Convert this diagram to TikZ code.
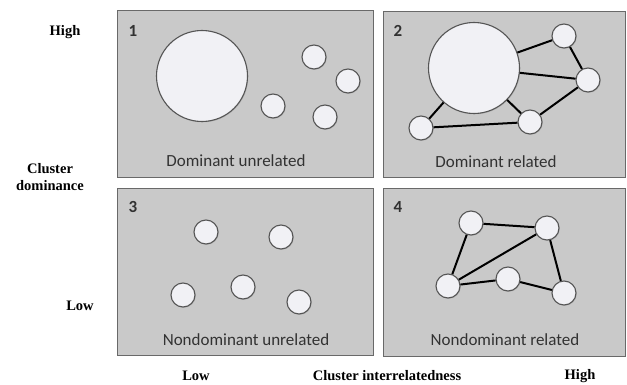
\documentclass[tikz,border=0pt]{standalone}
\usepackage{fontspec}
\setmainfont{Liberation Serif}
\newfontfamily\panelfont{Carlito}
\usetikzlibrary{shadows}
\definecolor{panelgray}{RGB}{201, 201, 201}
\definecolor{panelline}{RGB}{105, 105, 105}
\definecolor{dotfill}{RGB}{241, 241, 245}
\definecolor{dotline}{RGB}{85, 85, 85}
\definecolor{paneltext}{RGB}{50, 50, 50}

\tikzset{
  panel/.style={draw=panelline, line width=0.8pt, fill=panelgray,
    drop shadow={opacity=0.35, shadow xshift=1pt, shadow yshift=-1.2pt}},
  dot/.style={circle, draw=dotline, line width=1.1pt, fill=dotfill,
    inner sep=0pt, minimum size=24pt,
    drop shadow={opacity=0.3, shadow xshift=0.8pt, shadow yshift=-0.8pt}},
  bigdot/.style={dot, minimum size=91pt},
  link/.style={line width=2pt, black},
  caption/.style={font=\panelfont\fontsize{17}{20}\selectfont, text=paneltext},
  number/.style={caption, font=\panelfont\bfseries\fontsize{17}{20}\selectfont},
  axis/.style={font=\bfseries\fontsize{14.5}{17}\selectfont, align=center}
}

\begin{document}
\begin{tikzpicture}[x=1pt, y=-1pt]
\useasboundingbox (0,0) rectangle (627,385);

% the four quadrants
\draw[panel] (117,10) rectangle (373,177);
\draw[panel] (383,11) rectangle (625,177);
\draw[panel] (117,188) rectangle (373,355);
\draw[panel] (383,188) rectangle (625,356);

% 1: dominant unrelated
\node[number] (n1) at (133,31) {1};
\node[bigdot] (a0) at (202,76) {};
\node[dot] (a1) at (273,106) {};
\node[dot] (a2) at (314,57) {};
\node[dot] (a3) at (348,81) {};
\node[dot] (a4) at (325,117) {};
\node[caption] (t1) at (236,161) {Dominant unrelated};

% 2: dominant related
\node[number] (n2) at (398,31) {2};
\node[bigdot] (b0) at (474,68) {};
\node[dot] (b1) at (564,36) {};
\node[dot] (b2) at (588,80) {};
\node[dot] (b3) at (530,122) {};
\node[dot] (b4) at (421,128) {};
\node[caption] (t2) at (496,162) {Dominant related};
\draw[link] (b0) -- (b1);
\draw[link] (b0) -- (b2);
\draw[link] (b0) -- (b3);
\draw[link] (b0) -- (b4);
\draw[link] (b1) -- (b2);
\draw[link] (b2) -- (b3);
\draw[link] (b3) -- (b4);

% 3: nondominant unrelated
\node[number] (n3) at (133,207) {3};
\node[dot] (c1) at (206,232) {};
\node[dot] (c2) at (281,237) {};
\node[dot] (c3) at (183,295) {};
\node[dot] (c4) at (243,287) {};
\node[dot] (c5) at (299,302) {};
\node[caption] (t3) at (246,340) {Nondominant unrelated};

% 4: nondominant related
\node[number] (n4) at (398,207) {4};
\node[dot] (d1) at (471,223) {};
\node[dot] (d2) at (547,228) {};
\node[dot] (d3) at (448,286) {};
\node[dot] (d4) at (508,279) {};
\node[dot] (d5) at (564,293) {};
\node[caption] (t4) at (505,340) {Nondominant related};
\draw[link] (d1) -- (d2);
\draw[link] (d1) -- (d3);
\draw[link] (d3) -- (d2);
\draw[link] (d3) -- (d4);
\draw[link] (d4) -- (d5);
\draw[link] (d2) -- (d5);

% axis labels
\node[axis] (yhigh) at (65,32) {High};
\node[axis] (ytitle) at (50,177) {Cluster\\dominance};
\node[axis] (ylow) at (80,306) {Low};
\node[axis] (xlow) at (196,376) {Low};
\node[axis] (xtitle) at (387,376) {Cluster interrelatedness};
\node[axis] (xhigh) at (580,376) {High};
\end{tikzpicture}
\end{document}
